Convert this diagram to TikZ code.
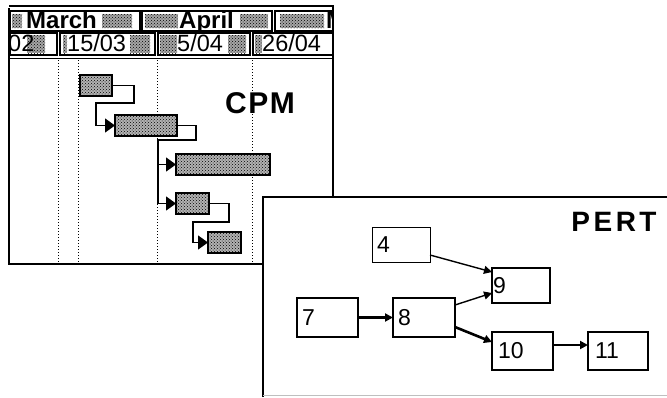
\documentclass[tikz,border=0pt]{standalone}
\usepackage{fontspec}
\setmainfont{Liberation Sans}
\usetikzlibrary{calc,arrows.meta,patterns}
\begin{document}
\begin{tikzpicture}[x=1pt,y=-1pt,
  frameline/.style={line width=1.6pt},
  cell/.style={draw,line width=1.2pt},
  patch/.style={fill=black!35,postaction={pattern=crosshatch dots,pattern color=black}},
  bar/.style={draw,line width=1.8pt,fill=gray!60,postaction={pattern=crosshatch dots,pattern color=black},inner sep=0pt,outer sep=0pt,minimum height=21pt},
  conn/.style={line width=1.4pt},
  cpmtip/.style={-{Triangle[length=10pt,width=14pt]}},
  guide/.style={dotted,line width=1pt},
  hdr/.style={font=\fontsize{24}{24}\selectfont\bfseries,inner sep=0pt,anchor=base west},
  dte/.style={font=\fontsize{23.5}{24}\selectfont,inner sep=0pt,anchor=base west},
  pbox/.style={draw,rectangle,inner sep=0pt,outer sep=0pt,font=\fontsize{23}{23}\selectfont},
  parr/.style={-{Triangle[length=8pt,width=8pt]}},
]
\useasboundingbox (0,0) rectangle (667,397);
% ---------- CPM panel ----------
\begin{scope}
\clip (0,0) rectangle (333,270);
% header row 1
\draw[cell] (10,11) rectangle (140,31);
\draw[cell] (142,11) rectangle (272,31);
\draw[cell] (275,11) rectangle (345,31);
\fill[patch] (12,14) rectangle (22,28);
\fill[patch] (102,14) rectangle (132,28);
\fill[patch] (145,14) rectangle (178,28);
\fill[patch] (240,14) rectangle (268,28);
\fill[patch] (280,14) rectangle (324,28);
\node[hdr] (mar) at (26,28) {March};
\node[hdr] (apr) at (179,28) {April};
\node[hdr] (may) at (326,28) {M};
% header row 2
\draw[cell] (10,33) rectangle (57,55);
\draw[cell] (60,33) rectangle (155,55);
\draw[cell] (158,33) rectangle (250,55);
\draw[cell] (253,33) rectangle (345,55);
\fill[patch] (27,35) rectangle (45,53);
\fill[patch] (63,35) rectangle (67,53);
\fill[patch] (130,35) rectangle (150,53);
\fill[patch] (160,35) rectangle (177,53);
\fill[patch] (228,35) rectangle (246,53);
\fill[patch] (255,35) rectangle (262,53);
\node[dte] (d1) at (8,51) {02};
\node[dte] (d2) at (67,51) {15/03};
\node[dte] (d3) at (177,51) {5/04};
\node[dte] (d4) at (262,51) {26/04};
\end{scope}
% frame
\draw[line width=1.2pt] (9,6) -- (333,6);
\draw[frameline] (9,8) -- (9,264) -- (333,264);
\draw[frameline] (333,5) -- (333,197);
\draw[line width=1pt] (9,58) -- (333,58);
% guides
\draw[guide] (58,60) -- (58,262);
\draw[guide] (78,60) -- (78,262);
\draw[guide] (157,60) -- (157,262);
\draw[guide] (252,60) -- (252,262);
% bars
\node[bar,minimum width=32pt] (b1) at (96,85.5) {};
\node[bar,minimum width=62pt] (b2) at (146,125.5) {};
\node[bar,minimum width=94pt] (b3) at (223,164.5) {};
\node[bar,minimum width=33pt] (b4) at (192.5,203.5) {};
\node[bar,minimum width=33pt] (b5) at (224.5,242.5) {};
% connectors
\draw[conn,cpmtip] (b1.east) -- ++(22,0) -- ++(0,17.5) -| ($(b2.west)+(-19,0)$) -- (b2.west);
\draw[conn,cpmtip] (b2.east) -- ++(19,0) -- ++(0,14.5) -| ($(b4.west)+(-18,0)$) -- (b4.west);
\draw[conn,cpmtip] ($(b3.west)+(-18,0)$) -- (b3.west);
\draw[conn,cpmtip] (b4.east) -- ++(20,0) -- ++(0,18.5) -| ($(b5.west)+(-15,0)$) -- (b5.west);
\node[font=\fontsize{30}{30}\selectfont\bfseries,inner sep=0pt] (cpm) at (260,103) {C\hspace{1.5pt}P\hspace{1.5pt}M};
% ---------- PERT panel ----------
\fill[white] (263,197) rectangle (667,397);
\draw[frameline] (263,397) -- (263,197) -- (667,197);
\draw[line width=1pt,gray!50] (263,395) -- (667,395);
\node[font=\fontsize{28}{28}\selectfont\bfseries,inner sep=0pt] (pert) at (614,222) {P\hspace{3.5pt}E\hspace{3.5pt}R\hspace{3.5pt}T};
\node[pbox,line width=0.8pt,minimum width=58pt,minimum height=35pt,text width=48pt,align=left] (p4) at (401,244.5) {4};
\node[pbox,line width=2.2pt,minimum width=58pt,minimum height=35pt,text width=56pt,align=left] (p9) at (521,285.5) {9};
\node[pbox,line width=2.2pt,minimum width=61pt,minimum height=39pt,text width=51pt,align=left] (p7) at (327.5,317.5) {7};
\node[pbox,line width=1.4pt,minimum width=62pt,minimum height=39pt,text width=52pt,align=left] (p8) at (424,317.5) {8};
\node[pbox,line width=2.2pt,minimum width=61pt,minimum height=38pt,text width=49pt,align=left] (p10) at (522.5,351) {10};
\node[pbox,line width=2.2pt,minimum width=60pt,minimum height=38pt,text width=46pt,align=left] (p11) at (618,351) {11};
\draw[parr,line width=1.4pt] ([yshift=-10.5pt]p4.east) -- ([yshift=13.5pt]p9.west);
\draw[parr,line width=1.4pt] ([yshift=12.5pt]p8.east) -- ([yshift=-7.5pt]p9.west);
\draw[parr,line width=2.6pt] ([yshift=-9.5pt]p8.east) -- ([yshift=9pt]p10.west);
\draw[parr,line width=2.6pt] (p7.east) -- (p8.west);
\draw[parr,line width=2.4pt] ([yshift=6pt]p10.east) -- ([yshift=6pt]p11.west);
\end{tikzpicture}
\end{document}
